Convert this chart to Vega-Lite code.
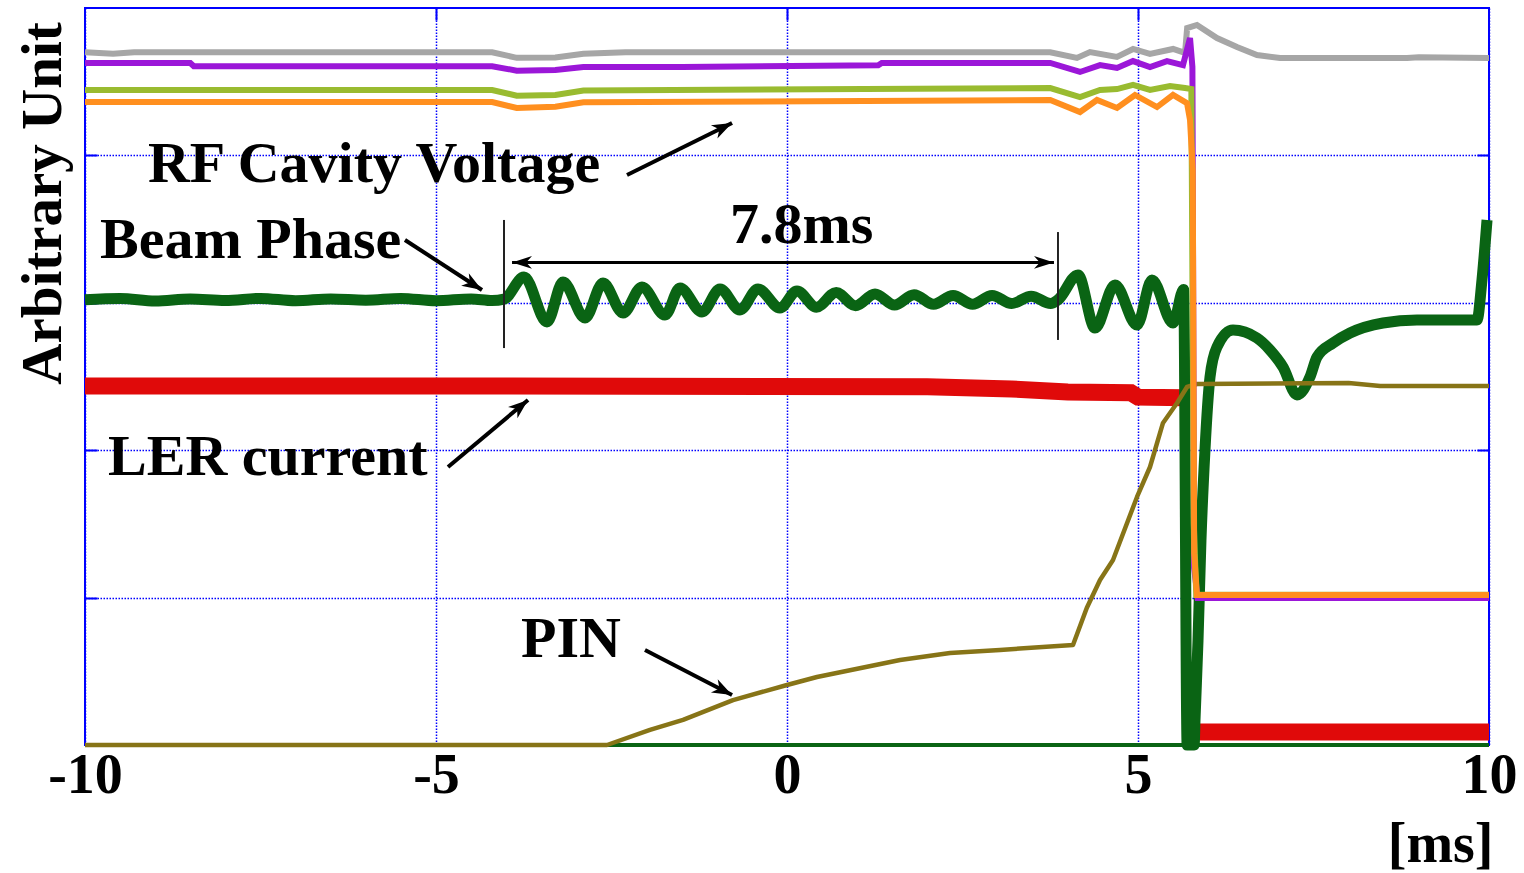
{
  "$schema": "https://vega.github.io/schema/vega-lite/v6.json",
  "width": 1404,
  "height": 737,
  "autosize": {"type": "none"},
  "padding": {"left": 85, "top": 8, "right": 35, "bottom": 128},
  "background": "white",
  "config": {"view": {"stroke": "#0000ff", "strokeWidth": 2}},
  "datasets": {
    "traces": [
      {"s": "base", "x": -10, "y": 0}, {"s": "base", "x": 10, "y": 0},

      {"s": "lerA", "x": -10, "y": 2.436}, {"s": "lerA", "x": -5, "y": 2.436}, {"s": "lerA", "x": 2.0, "y": 2.43},
      {"s": "lerA", "x": 3.2, "y": 2.415}, {"s": "lerA", "x": 4.0, "y": 2.395}, {"s": "lerA", "x": 4.9, "y": 2.39},
      {"s": "lerA", "x": 5.0, "y": 2.36}, {"s": "lerA", "x": 5.66, "y": 2.355},
      {"s": "lerB", "x": 5.855, "y": 0.088}, {"s": "lerB", "x": 10, "y": 0.088},

      {"s": "beam", "x": -10, "y": 3.02}, {"s": "beam", "x": -9.5, "y": 3.03}, {"s": "beam", "x": -9.0, "y": 3.012},
      {"s": "beam", "x": -8.5, "y": 3.026}, {"s": "beam", "x": -8.0, "y": 3.015}, {"s": "beam", "x": -7.5, "y": 3.03},
      {"s": "beam", "x": -7.0, "y": 3.014}, {"s": "beam", "x": -6.5, "y": 3.026}, {"s": "beam", "x": -6.0, "y": 3.018},
      {"s": "beam", "x": -5.5, "y": 3.03}, {"s": "beam", "x": -5.0, "y": 3.014}, {"s": "beam", "x": -4.5, "y": 3.026},
      {"s": "beam", "x": -4.2, "y": 3.015}, {"s": "beam", "x": -4.031, "y": 3.025}, {"s": "beam", "x": -3.746, "y": 3.175},
      {"s": "beam", "x": -3.419, "y": 2.87}, {"s": "beam", "x": -3.191, "y": 3.141}, {"s": "beam", "x": -2.877, "y": 2.897},
      {"s": "beam", "x": -2.621, "y": 3.134}, {"s": "beam", "x": -2.336, "y": 2.931}, {"s": "beam", "x": -2.066, "y": 3.107},
      {"s": "beam", "x": -1.738, "y": 2.917}, {"s": "beam", "x": -1.524, "y": 3.1}, {"s": "beam", "x": -1.211, "y": 2.938},
      {"s": "beam", "x": -0.954, "y": 3.094}, {"s": "beam", "x": -0.67, "y": 2.951}, {"s": "beam", "x": -0.413, "y": 3.094},
      {"s": "beam", "x": -0.1, "y": 2.965}, {"s": "beam", "x": 0.142, "y": 3.08}, {"s": "beam", "x": 0.42, "y": 2.97},
      {"s": "beam", "x": 0.7, "y": 3.07}, {"s": "beam", "x": 0.976, "y": 2.98}, {"s": "beam", "x": 1.254, "y": 3.06},
      {"s": "beam", "x": 1.532, "y": 2.985}, {"s": "beam", "x": 1.81, "y": 3.055}, {"s": "beam", "x": 2.088, "y": 2.99},
      {"s": "beam", "x": 2.366, "y": 3.05}, {"s": "beam", "x": 2.644, "y": 2.99}, {"s": "beam", "x": 2.922, "y": 3.05},
      {"s": "beam", "x": 3.2, "y": 2.995}, {"s": "beam", "x": 3.478, "y": 3.045}, {"s": "beam", "x": 3.756, "y": 2.995},
      {"s": "beam", "x": 3.86, "y": 3.02}, {"s": "beam", "x": 4.145, "y": 3.189}, {"s": "beam", "x": 4.387, "y": 2.829},
      {"s": "beam", "x": 4.672, "y": 3.121}, {"s": "beam", "x": 4.986, "y": 2.849}, {"s": "beam", "x": 5.199, "y": 3.155},
      {"s": "beam", "x": 5.499, "y": 2.863}, {"s": "beam", "x": 5.65, "y": 3.09}, {"s": "beam", "x": 5.7, "y": 0.0},
      {"s": "beam", "x": 5.8, "y": 0.0}, {"s": "beam", "x": 5.812, "y": 0.17}, {"s": "beam", "x": 5.855, "y": 0.71},
      {"s": "beam", "x": 5.897, "y": 1.39}, {"s": "beam", "x": 5.954, "y": 2.0}, {"s": "beam", "x": 6.026, "y": 2.497},
      {"s": "beam", "x": 6.125, "y": 2.7}, {"s": "beam", "x": 6.353, "y": 2.815}, {"s": "beam", "x": 6.695, "y": 2.761},
      {"s": "beam", "x": 6.88, "y": 2.68}, {"s": "beam", "x": 7.066, "y": 2.564}, {"s": "beam", "x": 7.265, "y": 2.375},
      {"s": "beam", "x": 7.45, "y": 2.497}, {"s": "beam", "x": 7.55, "y": 2.632}, {"s": "beam", "x": 7.778, "y": 2.727},
      {"s": "beam", "x": 8.02, "y": 2.795}, {"s": "beam", "x": 8.49, "y": 2.863}, {"s": "beam", "x": 8.974, "y": 2.883},
      {"s": "beam", "x": 9.444, "y": 2.883}, {"s": "beam", "x": 9.829, "y": 2.883}, {"s": "beam", "x": 9.9, "y": 3.155},
      {"s": "beam", "x": 9.972, "y": 3.562},

      {"s": "pin", "x": -10, "y": 0}, {"s": "pin", "x": -2.564, "y": 0}, {"s": "pin", "x": -1.952, "y": 0.102},
      {"s": "pin", "x": -1.481, "y": 0.17}, {"s": "pin", "x": -0.769, "y": 0.305}, {"s": "pin", "x": 0, "y": 0.407},
      {"s": "pin", "x": 0.427, "y": 0.461}, {"s": "pin", "x": 1.61, "y": 0.577}, {"s": "pin", "x": 2.322, "y": 0.624},
      {"s": "pin", "x": 3.034, "y": 0.645}, {"s": "pin", "x": 4.074, "y": 0.678}, {"s": "pin", "x": 4.27, "y": 0.93},
      {"s": "pin", "x": 4.459, "y": 1.12}, {"s": "pin", "x": 4.644, "y": 1.255}, {"s": "pin", "x": 4.986, "y": 1.683},
      {"s": "pin", "x": 5.171, "y": 1.886}, {"s": "pin", "x": 5.356, "y": 2.185}, {"s": "pin", "x": 5.556, "y": 2.32},
      {"s": "pin", "x": 5.698, "y": 2.429}, {"s": "pin", "x": 5.84, "y": 2.449}, {"s": "pin", "x": 8.0, "y": 2.456},
      {"s": "pin", "x": 8.45, "y": 2.436}, {"s": "pin", "x": 10, "y": 2.436},

      {"s": "gray", "x": -10, "y": 4.7}, {"s": "gray", "x": -9.6, "y": 4.69}, {"s": "gray", "x": -9.3, "y": 4.7},
      {"s": "gray", "x": -4.2, "y": 4.7}, {"s": "gray", "x": -3.85, "y": 4.662}, {"s": "gray", "x": -3.3, "y": 4.665},
      {"s": "gray", "x": -2.9, "y": 4.69}, {"s": "gray", "x": -2.3, "y": 4.7}, {"s": "gray", "x": 3.75, "y": 4.7},
      {"s": "gray", "x": 4.13, "y": 4.661}, {"s": "gray", "x": 4.316, "y": 4.701}, {"s": "gray", "x": 4.7, "y": 4.668},
      {"s": "gray", "x": 4.93, "y": 4.722}, {"s": "gray", "x": 5.17, "y": 4.688}, {"s": "gray", "x": 5.5, "y": 4.722},
      {"s": "gray", "x": 5.67, "y": 4.695}, {"s": "gray", "x": 5.7, "y": 4.864}, {"s": "gray", "x": 5.84, "y": 4.885},
      {"s": "gray", "x": 6.125, "y": 4.796}, {"s": "gray", "x": 6.41, "y": 4.735}, {"s": "gray", "x": 6.695, "y": 4.681},
      {"s": "gray", "x": 7.023, "y": 4.661}, {"s": "gray", "x": 8.832, "y": 4.661}, {"s": "gray", "x": 9.0, "y": 4.666},
      {"s": "gray", "x": 10, "y": 4.661},

      {"s": "purple", "x": -10, "y": 4.627}, {"s": "purple", "x": -8.5, "y": 4.627}, {"s": "purple", "x": -8.45, "y": 4.605},
      {"s": "purple", "x": -4.2, "y": 4.605}, {"s": "purple", "x": -3.85, "y": 4.575}, {"s": "purple", "x": -3.3, "y": 4.58},
      {"s": "purple", "x": -2.9, "y": 4.6}, {"s": "purple", "x": -1.5, "y": 4.6}, {"s": "purple", "x": 1.3, "y": 4.612},
      {"s": "purple", "x": 1.35, "y": 4.627}, {"s": "purple", "x": 3.75, "y": 4.627}, {"s": "purple", "x": 4.174, "y": 4.566},
      {"s": "purple", "x": 4.459, "y": 4.613}, {"s": "purple", "x": 4.701, "y": 4.593}, {"s": "purple", "x": 4.929, "y": 4.64},
      {"s": "purple", "x": 5.171, "y": 4.6}, {"s": "purple", "x": 5.413, "y": 4.64}, {"s": "purple", "x": 5.641, "y": 4.613},
      {"s": "purple", "x": 5.741, "y": 4.796}, {"s": "purple", "x": 5.775, "y": 4.6}, {"s": "purple", "x": 5.8, "y": 1.2},
      {"s": "purple", "x": 5.85, "y": 0.997}, {"s": "purple", "x": 10, "y": 0.997},

      {"s": "yg", "x": -10, "y": 4.444}, {"s": "yg", "x": -4.2, "y": 4.444}, {"s": "yg", "x": -3.85, "y": 4.405},
      {"s": "yg", "x": -3.3, "y": 4.41}, {"s": "yg", "x": -2.9, "y": 4.44}, {"s": "yg", "x": 3.75, "y": 4.457},
      {"s": "yg", "x": 4.174, "y": 4.396}, {"s": "yg", "x": 4.459, "y": 4.444}, {"s": "yg", "x": 4.701, "y": 4.45},
      {"s": "yg", "x": 4.929, "y": 4.478}, {"s": "yg", "x": 5.171, "y": 4.444}, {"s": "yg", "x": 5.456, "y": 4.471},
      {"s": "yg", "x": 5.67, "y": 4.457}, {"s": "yg", "x": 5.76, "y": 4.45}, {"s": "yg", "x": 5.795, "y": 1.5},
      {"s": "yg", "x": 5.83, "y": 1.02}, {"s": "yg", "x": 10, "y": 1.02},

      {"s": "orange", "x": -10, "y": 4.362}, {"s": "orange", "x": -4.2, "y": 4.362}, {"s": "orange", "x": -3.85, "y": 4.322},
      {"s": "orange", "x": -3.3, "y": 4.33}, {"s": "orange", "x": -2.9, "y": 4.36}, {"s": "orange", "x": 3.75, "y": 4.376},
      {"s": "orange", "x": 4.174, "y": 4.294}, {"s": "orange", "x": 4.416, "y": 4.376}, {"s": "orange", "x": 4.701, "y": 4.322},
      {"s": "orange", "x": 4.957, "y": 4.41}, {"s": "orange", "x": 5.271, "y": 4.328}, {"s": "orange", "x": 5.499, "y": 4.41},
      {"s": "orange", "x": 5.698, "y": 4.355}, {"s": "orange", "x": 5.741, "y": 4.24}, {"s": "orange", "x": 5.78, "y": 3.9},
      {"s": "orange", "x": 5.8, "y": 1.3}, {"s": "orange", "x": 5.84, "y": 1.018}, {"s": "orange", "x": 10, "y": 1.018}
    ],
    "arrows": [
      {"id": "rf", "x": -2.279, "y": 3.867, "x2": -0.783, "y2": 4.22},
      {"id": "beam", "x": -5.442, "y": 3.426, "x2": -4.345, "y2": 3.087},
      {"id": "ler", "x": -4.829, "y": 1.886, "x2": -3.689, "y2": 2.341},
      {"id": "pin", "x": -2.023, "y": 0.645, "x2": -0.783, "y2": 0.339},
      {"id": "span", "x": -3.917, "y": 3.274, "x2": 3.803, "y2": 3.274},
      {"id": "v1", "x": -4.031, "y": 3.562, "x2": -4.031, "y2": 2.693},
      {"id": "v2", "x": 3.86, "y": 3.48, "x2": 3.86, "y2": 2.748}
    ],
    "labels": [
      {"t": "RF Cavity Voltage", "x": -9.103, "y": 3.82},
      {"t": "Beam Phase", "x": -9.786, "y": 3.304},
      {"t": "7.8ms", "x": -0.812, "y": 3.406},
      {"t": "LER current", "x": -9.672, "y": 1.832},
      {"t": "PIN", "x": -3.789, "y": 0.597}
    ]
  },
  "encoding": {
    "x": {"field": "x", "type": "quantitative", "scale": {"domain": [-10, 10], "nice": false, "zero": false}, "axis": null},
    "y": {"field": "y", "type": "quantitative", "scale": {"domain": [0, 5], "nice": false, "zero": false}, "axis": null}
  },
  "layer": [
    {
      "data": {"name": "traces"},
      "transform": [{"filter": "datum.s === 'base'"}],
      "mark": {"type": "line", "color": "#0a6414", "strokeWidth": 4},
      "encoding": {
        "x": {"field": "x", "type": "quantitative", "scale": {"domain": [-10, 10], "nice": false, "zero": false},
          "axis": {"orient": "bottom", "values": [-10, -5, 0, 5, 10], "grid": true, "gridColor": "#0000ff", "gridDash": [1.5, 1.5], "gridWidth": 1.5, "gridOpacity": 1,
            "ticks": false, "domain": false, "labelFont": "Liberation Serif", "labelFontWeight": "bold", "labelFontSize": 56, "labelColor": "#000000",
            "labelPadding": 3, "labelFlush": false, "labelOverlap": false,
            "labelExpr": "datum.value < 0 ? '-' + format(-datum.value, 'd') : format(datum.value, 'd')",
            "title": "[ms]", "titleFont": "Liberation Serif", "titleFontWeight": "bold", "titleFontSize": 56, "titleColor": "#000000",
            "titleAlign": "right", "titleBaseline": "alphabetic", "titleX": 1408, "titleY": 116}},
        "y": {"field": "y", "type": "quantitative", "scale": {"domain": [0, 5], "nice": false, "zero": false},
          "axis": {"orient": "left", "values": [1, 2, 3, 4], "grid": true, "gridColor": "#0000ff", "gridDash": [1.5, 1.5], "gridWidth": 1.5, "gridOpacity": 1,
            "ticks": true, "tickSize": -12, "tickColor": "#0000ff", "tickWidth": 2, "labels": false, "domain": false,
            "title": "Arbitrary Unit", "titleFont": "Liberation Serif", "titleFontWeight": "bold", "titleFontSize": 57, "titleColor": "#000000",
            "titleAngle": 270, "titleAlign": "center", "titleBaseline": "alphabetic", "titleX": -25, "titleY": 195}}
      }
    },
    {
      "data": {"name": "traces"},
      "transform": [{"filter": {"field": "s", "oneOf": ["lerA", "lerB"]}}],
      "mark": {"type": "line", "color": "#e00a0a", "strokeWidth": 17},
      "encoding": {"detail": {"field": "s"}}
    },
    {
      "data": {"name": "traces"},
      "transform": [{"filter": "datum.s === 'beam'"}],
      "mark": {"type": "line", "color": "#0a6414", "strokeWidth": 11, "interpolate": "monotone", "strokeJoin": "round"}
    },
    {
      "data": {"name": "traces"},
      "transform": [{"filter": "datum.s === 'pin'"}],
      "mark": {"type": "line", "color": "#877417", "strokeWidth": 4.5, "strokeJoin": "round"}
    },
    {
      "data": {"name": "traces"},
      "transform": [{"filter": "datum.s === 'gray'"}],
      "mark": {"type": "line", "color": "#a6a6a6", "strokeWidth": 6},
      "encoding": {
        "x": {"field": "x", "type": "quantitative", "scale": {"domain": [-10, 10], "nice": false, "zero": false},
          "axis": {"orient": "top", "values": [-5, 0, 5], "grid": false, "labels": false, "domain": false, "ticks": true, "tickSize": -12, "tickColor": "#0000ff", "tickWidth": 2, "title": null}},
        "y": {"field": "y", "type": "quantitative", "scale": {"domain": [0, 5], "nice": false, "zero": false},
          "axis": {"orient": "right", "values": [1, 2, 3, 4], "grid": false, "labels": false, "domain": false, "ticks": true, "tickSize": -12, "tickColor": "#0000ff", "tickWidth": 2, "title": null}}
      }
    },
    {
      "data": {"name": "traces"},
      "transform": [{"filter": "datum.s === 'purple'"}],
      "mark": {"type": "line", "color": "#9b17d8", "strokeWidth": 6}
    },
    {
      "data": {"name": "traces"},
      "transform": [{"filter": "datum.s === 'yg'"}],
      "mark": {"type": "line", "color": "#99bb30", "strokeWidth": 6}
    },
    {
      "data": {"name": "traces"},
      "transform": [{"filter": "datum.s === 'orange'"}],
      "mark": {"type": "line", "color": "#ff8f1f", "strokeWidth": 6}
    },
    {
      "data": {"name": "arrows"},
      "transform": [{"filter": {"field": "id", "oneOf": ["rf", "beam", "ler", "pin"]}}],
      "mark": {"type": "rule", "color": "#000000", "strokeWidth": 4},
      "encoding": {"x2": {"field": "x2"}, "y2": {"field": "y2"}}
    },
    {
      "data": {"name": "arrows"},
      "transform": [{"filter": "datum.id === 'span'"}],
      "mark": {"type": "rule", "color": "#000000", "strokeWidth": 3},
      "encoding": {"x2": {"field": "x2"}, "y2": {"field": "y2"}}
    },
    {
      "data": {"name": "arrows"},
      "transform": [{"filter": {"field": "id", "oneOf": ["v1", "v2"]}}],
      "mark": {"type": "rule", "color": "#222222", "strokeWidth": 2},
      "encoding": {"x2": {"field": "x2"}, "y2": {"field": "y2"}}
    },
    {
      "data": {"name": "arrows"},
      "transform": [{"filter": "datum.id === 'rf'"}],
      "mark": {"type": "point", "shape": "M0,0L-0.7,1.9L0,1.35L0.7,1.9Z", "filled": true, "color": "#000000", "opacity": 1, "size": 441, "angle": 63.7},
      "encoding": {
        "x": {"field": "x2", "type": "quantitative", "scale": {"domain": [-10, 10], "nice": false, "zero": false}, "axis": null},
        "y": {"field": "y2", "type": "quantitative", "scale": {"domain": [0, 5], "nice": false, "zero": false}, "axis": null}
      }
    },
    {
      "data": {"name": "arrows"},
      "transform": [{"filter": "datum.id === 'beam'"}],
      "mark": {"type": "point", "shape": "M0,0L-0.7,1.9L0,1.35L0.7,1.9Z", "filled": true, "color": "#000000", "opacity": 1, "size": 441, "angle": 121.4},
      "encoding": {
        "x": {"field": "x2", "type": "quantitative", "scale": {"domain": [-10, 10], "nice": false, "zero": false}, "axis": null},
        "y": {"field": "y2", "type": "quantitative", "scale": {"domain": [0, 5], "nice": false, "zero": false}, "axis": null}
      }
    },
    {
      "data": {"name": "arrows"},
      "transform": [{"filter": "datum.id === 'ler'"}],
      "mark": {"type": "point", "shape": "M0,0L-0.7,1.9L0,1.35L0.7,1.9Z", "filled": true, "color": "#000000", "opacity": 1, "size": 441, "angle": 50.1},
      "encoding": {
        "x": {"field": "x2", "type": "quantitative", "scale": {"domain": [-10, 10], "nice": false, "zero": false}, "axis": null},
        "y": {"field": "y2", "type": "quantitative", "scale": {"domain": [0, 5], "nice": false, "zero": false}, "axis": null}
      }
    },
    {
      "data": {"name": "arrows"},
      "transform": [{"filter": "datum.id === 'pin'"}],
      "mark": {"type": "point", "shape": "M0,0L-0.7,1.9L0,1.35L0.7,1.9Z", "filled": true, "color": "#000000", "opacity": 1, "size": 441, "angle": 117.4},
      "encoding": {
        "x": {"field": "x2", "type": "quantitative", "scale": {"domain": [-10, 10], "nice": false, "zero": false}, "axis": null},
        "y": {"field": "y2", "type": "quantitative", "scale": {"domain": [0, 5], "nice": false, "zero": false}, "axis": null}
      }
    },
    {
      "data": {"name": "arrows"},
      "transform": [{"filter": "datum.id === 'span'"}],
      "mark": {"type": "point", "shape": "M0,0L-0.6,1.9L0,1.35L0.6,1.9Z", "filled": true, "color": "#000000", "opacity": 1, "size": 441, "angle": 90},
      "encoding": {
        "x": {"field": "x2", "type": "quantitative", "scale": {"domain": [-10, 10], "nice": false, "zero": false}, "axis": null},
        "y": {"field": "y2", "type": "quantitative", "scale": {"domain": [0, 5], "nice": false, "zero": false}, "axis": null}
      }
    },
    {
      "data": {"name": "arrows"},
      "transform": [{"filter": "datum.id === 'span'"}],
      "mark": {"type": "point", "shape": "M0,0L-0.6,1.9L0,1.35L0.6,1.9Z", "filled": true, "color": "#000000", "opacity": 1, "size": 441, "angle": 270}
    },
    {
      "data": {"name": "labels"},
      "mark": {"type": "text", "align": "left", "baseline": "alphabetic", "font": "Liberation Serif", "fontWeight": "bold", "fontSize": 58, "color": "#000000"},
      "encoding": {"text": {"field": "t"}}
    }
  ],
  "resolve": {"axis": {"x": "independent", "y": "independent"}}
}
